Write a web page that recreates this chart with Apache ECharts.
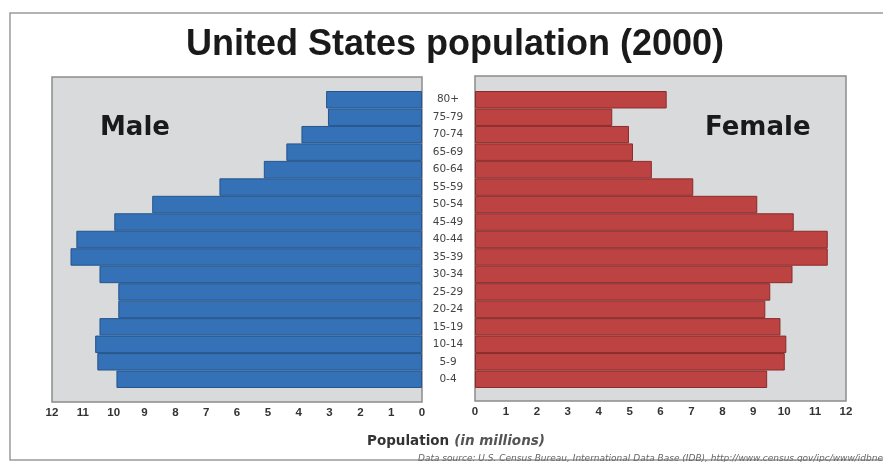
<!DOCTYPE html>
<html>
<head>
<meta charset="utf-8">
<script src="https://cdn.jsdelivr.net/npm/echarts@6/dist/echarts.min.js"></script>
<style>
html,body{margin:0;padding:0;background:#fff;}
#chart{width:883px;height:462px;}
</style>
</head>
<body>
<div id="chart"></div>
<script>
// Age groups, bottom to top
const ageGroups = ['0-4','5-9','10-14','15-19','20-24','25-29','30-34','35-39','40-44','45-49','50-54','55-59','60-64','65-69','70-74','75-79','80+'];
// Population in millions
const maleValues   = [9.91, 10.53, 10.60, 10.46, 9.85, 9.85, 10.46, 11.40, 11.21, 9.98, 8.75, 6.57, 5.13, 4.40, 3.91, 3.05, 3.11];
const femaleValues = [9.45, 10.02, 10.07, 9.88, 9.39, 9.55, 10.27, 11.41, 11.41, 10.31, 9.13, 7.06, 5.72, 5.11, 4.98, 4.44, 6.20];
const axisMin = 0;
const axisMax = 12;
const axisStep = 1;

const chart = echarts.init(document.getElementById('chart'), null, {renderer: 'canvas'});

const boxStyle = {show: true, backgroundColor: '#d9dadc', borderColor: '#8c8c8c', borderWidth: 1.5};
const tickLabel = {fontFamily: 'Liberation Sans', fontWeight: 'bold', fontSize: 11.5, color: '#333', margin: 5};

chart.setOption({
  animation: false,
  backgroundColor: '#ffffff',
  graphic: [{
    type: 'rect', z: -10, silent: true,
    shape: {x: 10, y: 13, width: 900, height: 447},
    style: {fill: 'none', stroke: '#9a9a9a', lineWidth: 1.5}
  }],
  title: [
    {text: 'United States population (2000)', left: 450, top: 22, textAlign: 'center',
     textStyle: {fontFamily: 'Liberation Sans', fontWeight: 'bold', fontSize: 36, color: '#1a1a1a'}},
    {text: 'Male', left: 95, top: 110,
     textStyle: {fontFamily: 'DejaVu Sans', fontWeight: 'bold', fontSize: 26, color: '#1a1a1a'}},
    {text: 'Female', left: 700, top: 110,
     textStyle: {fontFamily: 'DejaVu Sans', fontWeight: 'bold', fontSize: 26, color: '#1a1a1a'}},
    {text: '{b|Population} {i|(in millions)}', left: 451, top: 427, textAlign: 'center',
     textStyle: {rich: {
       b: {fontFamily: 'DejaVu Sans', fontWeight: 'bold', fontSize: 13.5, color: '#333'},
       i: {fontFamily: 'DejaVu Sans', fontStyle: 'italic', fontSize: 13.5, color: '#555'}
     }}},
    {text: 'Data source: U.S. Census Bureau, International Data Base (IDB), http://www.census.gov/ipc/www/idbnew.html',
     left: 413, top: 449,
     textStyle: {fontFamily: 'DejaVu Sans', fontStyle: 'italic', fontSize: 9, fontWeight: 'normal', color: '#666'}}
  ],
  grid: [
    Object.assign({left: 52, top: 77, width: 370, height: 325}, boxStyle),
    Object.assign({left: 475, top: 76, width: 371, height: 325}, boxStyle),
    {left: 52, top: 91, width: 370, height: 297, show: false},
    {left: 475, top: 91, width: 371, height: 297, show: false}
  ],
  xAxis: [
    {gridIndex: 0, type: 'value', min: axisMin, max: axisMax, interval: axisStep, inverse: true,
     axisLine: {show: false}, axisTick: {show: false}, splitLine: {show: false}, axisLabel: tickLabel},
    {gridIndex: 1, type: 'value', min: axisMin, max: axisMax, interval: axisStep,
     axisLine: {show: false}, axisTick: {show: false}, splitLine: {show: false}, axisLabel: tickLabel},
    {gridIndex: 2, type: 'value', min: axisMin, max: axisMax, inverse: true, show: false},
    {gridIndex: 3, type: 'value', min: axisMin, max: axisMax, show: false}
  ],
  yAxis: [
    {gridIndex: 0, type: 'value', show: false},
    {gridIndex: 1, type: 'value', show: false},
    {gridIndex: 2, type: 'category', data: ageGroups, position: 'right', show: false},
    {gridIndex: 3, type: 'category', data: ageGroups, position: 'left',
     axisLine: {show: false}, axisTick: {show: false},
     axisLabel: {fontFamily: 'DejaVu Sans', fontSize: 10.5, color: '#444', align: 'center', margin: 27}}
  ],
  series: [
    {name: 'Male', type: 'bar', xAxisIndex: 2, yAxisIndex: 2, data: maleValues,
     barCategoryGap: '0%',
     itemStyle: {color: '#3571b6', borderColor: '#24558c', borderWidth: 1}},
    {name: 'Female', type: 'bar', xAxisIndex: 3, yAxisIndex: 3, data: femaleValues,
     barCategoryGap: '0%',
     itemStyle: {color: '#bd4343', borderColor: '#8a2b2b', borderWidth: 1}}
  ]
});
</script>
</body>
</html>
